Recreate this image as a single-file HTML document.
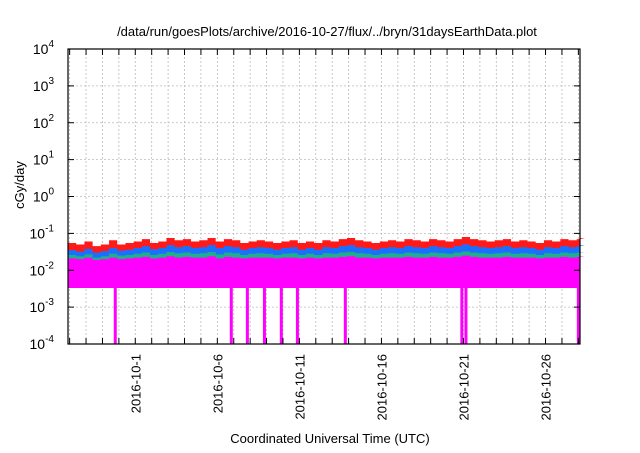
<!DOCTYPE html>
<html><head><meta charset="utf-8"><style>
body{margin:0;background:#fff;}
svg text{font-family:"Liberation Sans",sans-serif;fill:#000;}
</style></head><body>
<svg id="chart" width="640" height="448" xmlns="http://www.w3.org/2000/svg">
<text x="327" y="36" font-size="13" text-anchor="middle">/data/run/goesPlots/archive/2016-10-27/flux/../bryn/31daysEarthData.plot</text>
<text transform="translate(24,185) rotate(-90)" font-size="13" text-anchor="middle">cGy/day</text>
<text x="330" y="443" font-size="13" text-anchor="middle">Coordinated Universal Time (UTC)</text>
<g id="grid"></g><g id="series"></g><g id="axes"></g>
</svg>
<script>
const xTickDays=[0,5,10,15,20,25];
const xTickLabels=["2016-10-1","2016-10-6","2016-10-11","2016-10-16","2016-10-21","2016-10-26"];
const yTickExps=[-4,-3,-2,-1,0,1,2,3,4];
const sampleStart=-4.1, sampleStep=0.5;
const redTop=[0.055,0.05,0.06,0.045,0.05,0.065,0.05,0.055,0.06,0.07,0.055,0.06,0.075,0.065,0.07,0.06,0.065,0.075,0.06,0.07,0.065,0.055,0.06,0.065,0.06,0.055,0.06,0.065,0.055,0.06,0.055,0.065,0.06,0.07,0.075,0.065,0.06,0.055,0.06,0.065,0.06,0.07,0.065,0.06,0.07,0.065,0.06,0.07,0.08,0.07,0.065,0.06,0.065,0.07,0.06,0.065,0.06,0.055,0.065,0.06,0.07,0.065,0.07,0.075];
const blueTop=[0.035,0.032,0.038,0.03,0.033,0.04,0.034,0.036,0.04,0.045,0.037,0.04,0.048,0.042,0.045,0.04,0.042,0.048,0.04,0.045,0.042,0.036,0.04,0.042,0.04,0.036,0.04,0.042,0.036,0.04,0.036,0.042,0.04,0.045,0.048,0.042,0.04,0.036,0.04,0.042,0.04,0.045,0.042,0.04,0.045,0.042,0.04,0.045,0.05,0.045,0.042,0.04,0.042,0.045,0.04,0.042,0.04,0.036,0.042,0.04,0.045,0.042,0.045,0.048];
const greenTop=[0.026,0.024,0.027,0.022,0.024,0.028,0.025,0.026,0.028,0.03,0.026,0.028,0.031,0.029,0.03,0.028,0.029,0.031,0.027,0.03,0.029,0.026,0.028,0.029,0.028,0.026,0.028,0.029,0.026,0.028,0.026,0.029,0.028,0.03,0.031,0.029,0.028,0.026,0.028,0.029,0.028,0.03,0.029,0.028,0.03,0.029,0.028,0.03,0.032,0.03,0.029,0.028,0.029,0.03,0.028,0.029,0.028,0.026,0.029,0.028,0.03,0.029,0.03,0.031];
const magentaTop=[0.021,0.02,0.022,0.019,0.02,0.022,0.02,0.021,0.022,0.023,0.021,0.022,0.024,0.022,0.023,0.022,0.022,0.024,0.021,0.023,0.022,0.021,0.022,0.022,0.022,0.021,0.022,0.022,0.021,0.022,0.021,0.022,0.022,0.023,0.024,0.022,0.022,0.021,0.022,0.022,0.022,0.023,0.022,0.022,0.023,0.022,0.022,0.023,0.025,0.023,0.022,0.022,0.022,0.023,0.022,0.022,0.022,0.021,0.022,0.022,0.023,0.022,0.023,0.024];
const magentaBottom=0.0033;
const dipDays=[-1.22,5.85,6.83,7.87,8.9,9.88,12.8,19.9,20.15,27.0];
const dipValue=0.0001;

const L=68,R=580,T=49,B=344,dayMin=-4.1,dayMax=27.1;
const NS="http://www.w3.org/2000/svg";
const xS=d=>L+(d-dayMin)/(dayMax-dayMin)*(R-L);
const yS=v=>B-(Math.log10(v)+4)/8*(B-T);
function mk(tag,attrs,parent){const e=document.createElementNS(NS,tag);for(const k in attrs)e.setAttribute(k,attrs[k]);parent.appendChild(e);return e;}
const grid=document.getElementById('grid'),series=document.getElementById('series'),axes=document.getElementById('axes');
// vertical grid + ticks every day
for(let d=Math.ceil(dayMin);d<=dayMax;d++){
  const x=xS(d);
  const g=mk('line',{x1:x,x2:x,y1:T,y2:B,stroke:'#bbb','stroke-width':0.8,'stroke-dasharray':'2,2'},grid);
  
  
  const t1=mk('line',{x1:x,x2:x,y1:B,y2:B-6,stroke:'#000'},axes);
  
  
  const t2=mk('line',{x1:x,x2:x,y1:T,y2:T+6,stroke:'#000'},axes);
  
  
}
yTickExps.forEach(e=>{
  const y=yS(Math.pow(10,e));
  const g=mk('line',{x1:L,x2:R,y1:y,y2:y,stroke:'#bbb','stroke-width':0.8,'stroke-dasharray':'2,2'},grid);
  
  
  const t=mk('line',{x1:L,x2:L+6,y1:y,y2:y,stroke:'#000'},axes);
  
  
  const t2=mk('line',{x1:R,x2:R-6,y1:y,y2:y,stroke:'#000'},axes);
  
  
  const tx=mk('text',{x:L-14,y:y+5,'font-size':14,'text-anchor':'end'},axes);
  
  
  tx.textContent='10';
  const sp=mk('tspan',{dy:-7,'font-size':10},tx);sp.textContent=String(e);
});
xTickDays.forEach((d,i)=>{
  const x=xS(d);
  const tx=mk('text',{transform:`translate(${x+5},${B+10}) rotate(-90)`,'font-size':13,'text-anchor':'end'},axes);
  
  
  tx.textContent=xTickLabels[i];
});
function area(vals,color,name){
  let p=[];
  vals.forEach((v,i)=>{const x0=xS(sampleStart+i*sampleStep),x1=Math.min(R,xS(sampleStart+(i+1)*sampleStep));p.push(Math.max(L,x0)+','+yS(v));p.push(x1+','+yS(v));});
  const last=Math.min(R,xS(sampleStart+vals.length*sampleStep));
  p.push(last+','+yS(magentaBottom));p.push(L+','+yS(magentaBottom));
  const e=mk('polygon',{points:p.join(' '),fill:color},series);
  
  
}
area(redTop,'#ff1a1a','series-red');
area(blueTop,'#1a6fff','series-blue');
area(greenTop,'#1fb08a','series-green');
area(magentaTop,'#ff00ff','series-magenta');
dipDays.forEach(d=>{
  const x=xS(d);
  const r=mk('rect',{x:x-1.5,y:yS(magentaBottom),width:3,height:yS(dipValue)-yS(magentaBottom),fill:'#ff00ff'},series);
  
  
});
const fr=mk('rect',{x:L,y:T,width:R-L,height:B-T,fill:'none',stroke:'#000','stroke-width':1.2},axes);


</script>
</body></html>
